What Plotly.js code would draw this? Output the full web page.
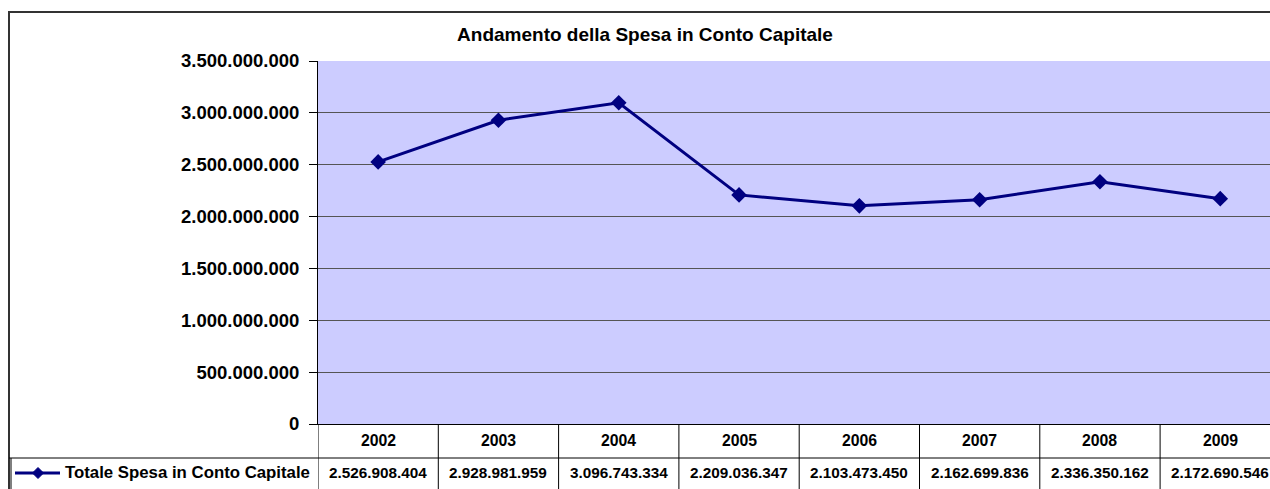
<!DOCTYPE html>
<html>
<head>
<meta charset="utf-8">
<script src="https://cdn.plot.ly/plotly-3.0.1.min.js"></script>
<style>html,body{margin:0;padding:0;background:#fff;overflow:hidden}#chart{width:1270px;height:489px}</style>
</head>
<body>
<div id="chart"></div>
<script>
var years = ['2002','2003','2004','2005','2006','2007','2008','2009'];
var spesa = [2526908404, 2928981959, 3096743334, 2209036347, 2103473450, 2162699836, 2336350162, 2172690546];
var seriesName = 'Totale Spesa in Conto Capitale';
var chartTitle = 'Andamento della Spesa in Conto Capitale';

var W = 1270, H = 489, L = 318, T = 61, B = 65;
var PW = W - L, PH = H - T - B;
function px(x){ return (x - L) / PW; }
function py(y){ return (H - B - y) / PH; }
var FONT = '"Liberation Sans", Arial, sans-serif';
function fmt(v){ return String(v).replace(/\B(?=(\d{3})+(?!\d))/g, '.'); }

var xs = years.map(function(_, i){ return i; });
var trace = {
  x: xs, y: spesa, type: 'scatter', mode: 'lines+markers', name: seriesName,
  line: {color: '#000080', width: 3},
  marker: {symbol: 'diamond', size: 12, color: '#000080'},
  cliponaxis: false, hoverinfo: 'x+y'
};

var shapes = [];
var annotations = [];
// outer chart border
shapes.push({type:'rect', xref:'paper', yref:'paper', x0:px(9), x1:px(1290), y0:py(500), y1:py(12), line:{color:'#333', width:2}, layer:'above'});
// table column dividers
for (var i = 0; i <= years.length; i++) {
  shapes.push({type:'line', xref:'x', yref:'paper', x0:i-0.5, x1:i-0.5, y0:0, y1:py(500), line:{color:'#000', width:1}});
}
// horizontal line between header and data row
shapes.push({type:'line', xref:'paper', yref:'paper', x0:px(9), x1:px(1290), y0:py(458), y1:py(458), line:{color:'#000', width:1}});
// double left border on data row
shapes.push({type:'line', xref:'paper', yref:'paper', x0:px(11), x1:px(11), y0:py(458), y1:py(500), line:{color:'#000', width:1}});
// legend key
shapes.push({type:'line', xref:'paper', yref:'paper', x0:px(15), x1:px(60), y0:py(473), y1:py(473), line:{color:'#000080', width:3}});
var dx = 5.5 / PW, dy = 5.5 / PH, cx = px(38), cy = py(473);
shapes.push({type:'path', xref:'paper', yref:'paper',
  path:'M'+(cx-dx)+','+cy+' L'+cx+','+(cy+dy)+' L'+(cx+dx)+','+cy+' L'+cx+','+(cy-dy)+' Z',
  fillcolor:'#000080', line:{color:'#000080', width:1}});
annotations.push({xref:'paper', yref:'paper', x:px(63), y:py(473), xanchor:'left', yanchor:'middle', showarrow:false,
  text:'<b>'+seriesName+'</b>', font:{family:FONT, size:16.8, color:'#000'}});
// years header and values
years.forEach(function(yr, i){
  annotations.push({xref:'x', yref:'paper', x:i, y:py(441), xanchor:'center', yanchor:'middle', showarrow:false,
    text:'<b>'+yr+'</b>', font:{family:FONT, size:15.8, color:'#000'}});
  annotations.push({xref:'x', yref:'paper', x:i, y:py(473), xanchor:'center', yanchor:'middle', showarrow:false,
    text:'<b>'+fmt(spesa[i])+'</b>', font:{family:FONT, size:15.3, color:'#000'}});
});

var layout = {
  width: W, height: H,
  margin: {l: L, r: 0, t: T, b: B, pad: 0},
  paper_bgcolor: '#fff', plot_bgcolor: '#ccccff',
  separators: ',.',
  showlegend: false,
  title: {text: '<b>'+chartTitle+'</b>', x: 645/W, xanchor: 'center', y: 1 - 34/H, yanchor: 'middle',
    font: {family: FONT, size: 19, color: '#000'}},
  xaxis: {range: [-0.5, -0.5 + PW/120.3], showgrid: false, zeroline: false, showticklabels: false, ticks: '',
    showline: true, linecolor: '#000', linewidth: 1, fixedrange: true},
  yaxis: {range: [0, 3.5e9], dtick: 5e8, tickformat: ',d', showgrid: true, gridcolor: '#555', gridwidth: 1,
    zeroline: false, showline: true, linecolor: '#000', linewidth: 1, ticks: 'outside', ticklen: 8, tickcolor: '#000',
    ticklabelstandoff: 6, tickfont: {family: FONT, size: 18.5, color: '#000', weight: 'bold'}, fixedrange: true},
  shapes: shapes, annotations: annotations
};
Plotly.newPlot('chart', [trace], layout, {displayModeBar: false, staticPlot: true});
</script>
</body>
</html>
